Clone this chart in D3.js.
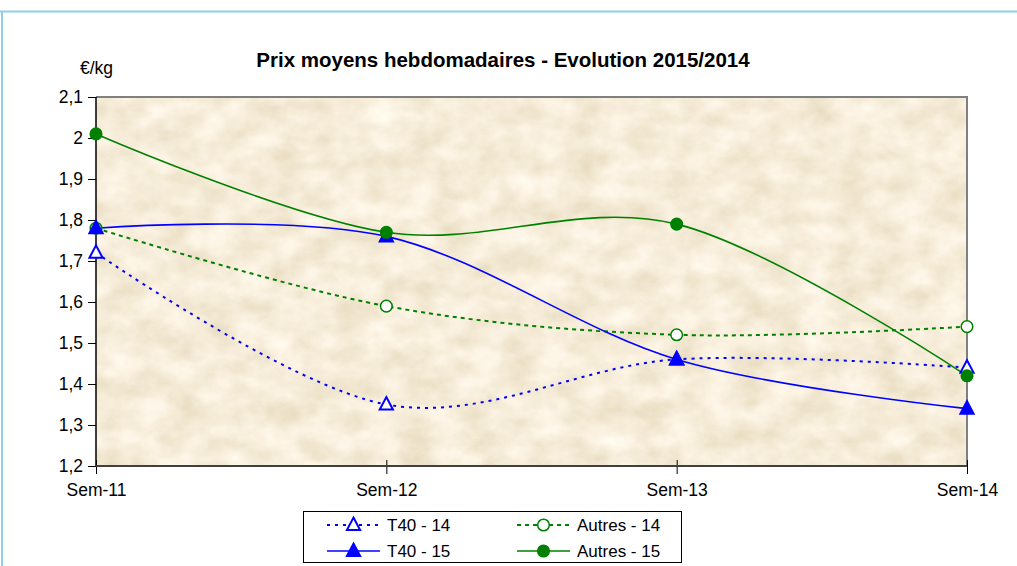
<!DOCTYPE html>
<html><head><meta charset="utf-8">
<script src="https://cdn.jsdelivr.net/npm/d3@7"></script>
<style>body{margin:0;background:#fff}svg{display:block;font-family:"Liberation Sans",Arial,sans-serif}</style>
</head><body>
<svg id="c" width="1017" height="566"></svg>
<script>
const categories = ["Sem-11","Sem-12","Sem-13","Sem-14"];
const t40_14 = [1.72, 1.35, 1.46, 1.44];
const autres_14 = [1.78, 1.59, 1.52, 1.54];
const t40_15 = [1.78, 1.76, 1.46, 1.34];
const autres_15 = [2.01, 1.77, 1.79, 1.42];
const yTicks = [1.2,1.3,1.4,1.5,1.6,1.7,1.8,1.9,2.0,2.1];
const seriesNames = ["T40 - 14","Autres - 14","T40 - 15","Autres - 15"];

const series = [
  {name:seriesNames[0], values:t40_14, color:"#0000FF", dash:"3,5", marker:"tri", filled:false},
  {name:seriesNames[1], values:autres_14, color:"#008000", dash:"4,4", marker:"circ", filled:false},
  {name:seriesNames[2], values:t40_15, color:"#0000FF", dash:null, marker:"tri", filled:true},
  {name:seriesNames[3], values:autres_15, color:"#008000", dash:null, marker:"circ", filled:true}
];

const FONT = "Liberation Sans, Arial, sans-serif";
const svg = d3.select("#c");
const L=96, R=967, T=97, B=466;
const x = d3.scalePoint().domain(categories).range([L,R]);
const y = d3.scaleLinear().domain([1.2,2.1]).range([B,T]);

// outer frame
svg.append("line").attr("x1",0).attr("x2",1017).attr("y1",11.5).attr("y2",11.5).attr("stroke","#8FCFEA").attr("stroke-width",2);
svg.append("line").attr("x1",2).attr("x2",2).attr("y1",11).attr("y2",566).attr("stroke","#8FCFEA").attr("stroke-width",2);

// texture
const defs = svg.append("defs");
const f = defs.append("filter").attr("id","tex").attr("x",0).attr("y",0).attr("width","100%").attr("height","100%");
f.append("feTurbulence").attr("type","fractalNoise").attr("baseFrequency","0.03 0.04").attr("numOctaves",5).attr("seed",11).attr("result","n");
f.append("feColorMatrix").attr("in","n").attr("type","matrix")
 .attr("values","0.28 0 0 0 0.79  0.33 0 0 0 0.69  0.45 0 0 0 0.49  0 0 0 0 1");
svg.append("rect").attr("x",L).attr("y",T).attr("width",R-L).attr("height",B-T).attr("fill","#EBDAB2");
svg.append("rect").attr("x",L).attr("y",T).attr("width",R-L).attr("height",B-T).attr("filter","url(#tex)").attr("opacity",0.95);

// plot border top/right
svg.append("path").attr("d",`M${L},${T}H${R}V${B}`).attr("fill","none").attr("stroke","#808080").attr("stroke-width",2);

// y axis
const yAxis = svg.append("g").attr("transform",`translate(${L},0)`)
  .call(d3.axisLeft(y).tickValues(yTicks).tickSize(8).tickPadding(5).tickFormat(d=>d3.format(".1f")(d).replace(".",",").replace(/,0$/,"")));
yAxis.attr("font-size",null).attr("font-family",null);
yAxis.select(".domain").attr("stroke","#000").attr("stroke-width",1.5).attr("d",`M0,${T}V${B}`);
yAxis.selectAll("text").style("font-size","17.5px").attr("fill","#000").style("font-family",FONT);
yAxis.selectAll(".tick line").attr("stroke","#000");

// x axis
const xAxis = svg.append("g").attr("transform",`translate(0,${B})`)
  .call(d3.axisBottom(x).tickSize(0).tickPadding(18));
xAxis.attr("font-size",null).attr("font-family",null);
xAxis.select(".domain").remove();
svg.append("line").attr("x1",L).attr("x2",R).attr("y1",B).attr("y2",B).attr("stroke","#404040").attr("stroke-width",2);
xAxis.selectAll(".tick").append("line").attr("y1",-6).attr("y2",8).attr("stroke","#000");
xAxis.selectAll("text").style("font-size","17.5px").attr("fill","#000").style("font-family",FONT);

// title & unit
svg.append("text").attr("x",503).attr("y",67).attr("text-anchor","middle").style("font-size","20.5px").attr("font-weight","bold").text("Prix moyens hebdomadaires - Evolution 2015/2014");
svg.append("text").attr("x",80).attr("y",74).style("font-size","17.5px").text("€/kg");

const line = d3.line().x((d,i)=>x(categories[i])).y(d=>y(d)).curve(d3.curveCardinal.tension(0));
const triPath = (s)=>`M0,${-s*0.62}L${s*0.55},${s*0.42}L${-s*0.55},${s*0.42}Z`;

function drawMarker(g, s, cx, cy){
  if(s.marker==="tri"){
    g.append("path").attr("d",triPath(12)).attr("transform",`translate(${cx},${cy})`)
     .attr("fill",s.filled?s.color:"#fff").attr("stroke",s.color).attr("stroke-width",2);
  } else {
    g.append("circle").attr("cx",cx).attr("cy",cy).attr("r",5.8)
     .attr("fill",s.filled?s.color:"#fff").attr("stroke",s.color).attr("stroke-width",1.5);
  }
}

const plot = svg.append("g");
series.forEach(s=>{
  plot.append("path").attr("d",line(s.values)).attr("fill","none").attr("stroke",s.color)
   .attr("stroke-width",s.dash?2:1.6).attr("stroke-dasharray",s.dash);
});
series.forEach(s=>{
  s.values.forEach((v,i)=>drawMarker(plot,s,x(categories[i]),y(v)));
});

// legend
const lg = svg.append("g");
lg.append("rect").attr("x",303.5).attr("y",511.5).attr("width",378).attr("height",51).attr("fill","#fff").attr("stroke","#000").attr("stroke-width",1);
const pos = [[327,525],[517,525],[327,551],[517,551]];
series.forEach((s,i)=>{
  const [lx,ly]=pos[i];
  lg.append("line").attr("x1",lx).attr("x2",lx+53).attr("y1",ly).attr("y2",ly).attr("stroke",s.color)
   .attr("stroke-width",s.dash?2:1.6).attr("stroke-dasharray",s.dash);
  drawMarker(lg,s,lx+26.5,ly);
  lg.append("text").attr("x",lx+60).attr("y",ly+6).style("font-size","17px").text(s.name);
});
</script>
</body></html>
